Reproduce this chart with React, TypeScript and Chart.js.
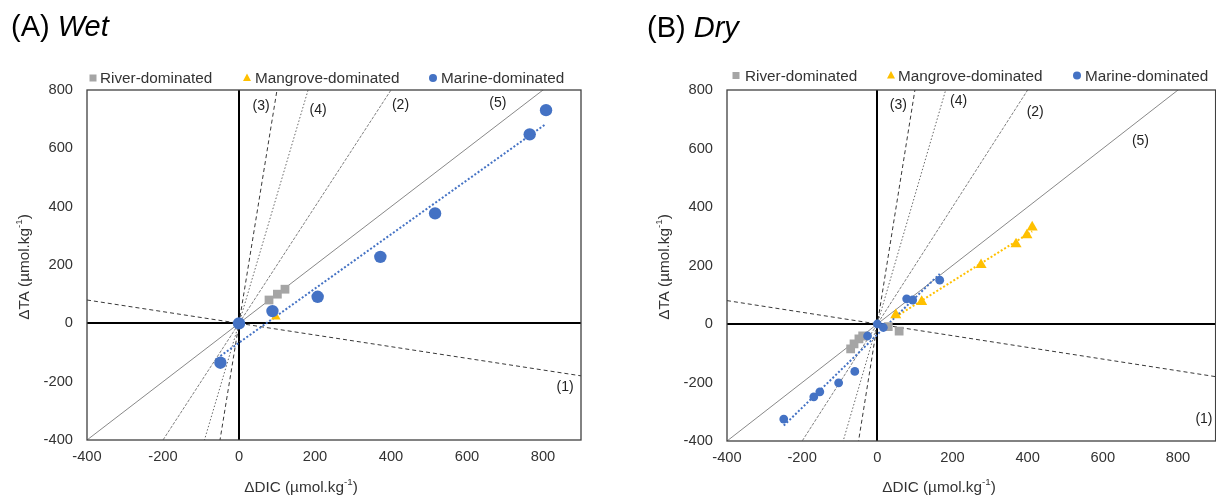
import React, { useEffect, useRef } from "react";
import { Chart, registerables } from "chart.js";

Chart.register(...registerables);

const FONT = '"Liberation Sans", Arial, Helvetica, sans-serif';

// ---------- data: (A) Wet ----------
const wetRiverX = [79, 101, 121];
const wetRiverY = [80, 100, 117];
const wetMangroveX = [97];
const wetMangroveY = [23];
const wetMarineX = [808, 765, 516, 372, 207, 88, 0, -49];
const wetMarineY = [731, 648, 377, 228, 91, 42, 0, -135];

// ---------- data: (B) Dry ----------
const dryRiverX = [58, 29, -39, -49, -62, -71];
const dryRiverY = [-24, -9, -41, -51, -68, -85];
const dryMangroveX = [49, 118, 276, 369, 398, 412];
const dryMangroveY = [31, 76, 202, 273, 304, 331];
const dryMarineX = [-249, -169, -153, -103, -60, -26, 0, 16, 78, 94, 166];
const dryMarineY = [-325, -249, -232, -201, -162, -41, 0, -12, 86, 82, 150];

// ---------- reference process lines (ΔTA/ΔDIC slopes through origin) ----------
const processLabels = ["(1)", "(2)", "(3)", "(4)", "(5)"];
const processSlopes = [-0.2, 2, 8, 4.4, 1];

// ---------- axes / labels ----------
const xTicks = [-400, -200, 0, 200, 400, 600, 800];
const yTicks = [-400, -200, 0, 200, 400, 600, 800];
const xMin = -400;
const xMax = 900;
const yMin = -400;
const yMax = 800;
const seriesNames = ["River-dominated", "Mangrove-dominated", "Marine-dominated"];
const xTitleName = "ΔDIC";
const yTitleName = "ΔTA";

// ---------- styles ----------
const RIVER = "#A5A5A5";
const MANGROVE = "#FFC000";
const MARINE = "#4472C4";
const processColors = ["#383838", "#707070", "#383838", "#666666", "#6a6a6a"];
const processDash = [[4, 3], [3, 1.5], [4, 3], [1.5, 2], []];
const processWidth = [1, 0.9, 1, 1, 0.8];

function linearFit(xs: number[], ys: number[]) {
  const n = xs.length;
  const mx = xs.reduce((a, b) => a + b, 0) / n;
  const my = ys.reduce((a, b) => a + b, 0) / n;
  let sxy = 0;
  let sxx = 0;
  for (let i = 0; i < n; i++) {
    sxy += (xs[i] - mx) * (ys[i] - my);
    sxx += (xs[i] - mx) * (xs[i] - mx);
  }
  const slope = sxy / sxx;
  return { slope, intercept: my - slope * mx };
}

function trendPoints(xs: number[], ys: number[]) {
  const { slope, intercept } = linearFit(xs, ys);
  const lo = Math.min(...xs);
  const hi = Math.max(...xs);
  return [
    { x: lo, y: slope * lo + intercept },
    { x: hi, y: slope * hi + intercept },
  ];
}

const pts = (xs: number[], ys: number[]) => xs.map((x, i) => ({ x, y: ys[i] }));

type PanelCfg = {
  prefix: string;
  italic: string;
  titleX: number;
  titleY: number;
  riverX: number[];
  riverY: number[];
  mangroveX: number[];
  mangroveY: number[];
  marineX: number[];
  marineY: number[];
  labelX: number[];
  labelY: number[];
  left: number;
  width: number;
  yAxisWidth: number;
  padRight: number;
  padBottom: number;
  legendY: number;
  legendMarkerX: number[];
  legendTextX: number[];
  xTitleX: number;
  yTitleX: number;
  circleR: number;
  rectR: number;
  triR: number;
};

const wetCfg: PanelCfg = {
  prefix: "(A) ",
  italic: "Wet",
  titleX: 11,
  titleY: 36,
  riverX: wetRiverX,
  riverY: wetRiverY,
  mangroveX: wetMangroveX,
  mangroveY: wetMangroveY,
  marineX: wetMarineX,
  marineY: wetMarineY,
  labelX: [858, 425, 58, 208, 681],
  labelY: [-220, 747, 744, 730, 756],
  left: 0,
  width: 600,
  yAxisWidth: 87,
  padRight: 19,
  padBottom: 16,
  legendY: 78,
  legendMarkerX: [93, 247, 433],
  legendTextX: [100, 255, 441],
  xTitleX: 301,
  yTitleX: 23,
  circleR: 6.2,
  rectR: 6.2,
  triR: 5.5,
};

const dryCfg: PanelCfg = {
  prefix: "(B) ",
  italic: "Dry",
  titleX: 31,
  titleY: 36.5,
  riverX: dryRiverX,
  riverY: dryRiverY,
  mangroveX: dryMangroveX,
  mangroveY: dryMangroveY,
  marineX: dryMarineX,
  marineY: dryMarineY,
  labelX: [869, 420, 56, 216, 700],
  labelY: [-326, 726, 749, 762, 626],
  left: 616,
  width: 606,
  yAxisWidth: 111,
  padRight: 1,
  padBottom: 15,
  legendY: 75.5,
  legendMarkerX: [120, 275, 461],
  legendTextX: [129, 282, 469],
  xTitleX: 323,
  yTitleX: 47,
  circleR: 4.4,
  rectR: 6.2,
  triR: 6.4,
};

function drawAxisTitle(ctx: CanvasRenderingContext2D, name: string, cx: number, cy: number, rotate: boolean) {
  const size = 15.3;
  const supSize = 9.8;
  const parts = [
    { t: name + " (µmol.kg", sup: false },
    { t: "-1", sup: true },
    { t: ")", sup: false },
  ];
  ctx.save();
  ctx.translate(cx, cy);
  if (rotate) ctx.rotate(-Math.PI / 2);
  const widths = parts.map((p) => {
    ctx.font = `${p.sup ? supSize : size}px ${FONT}`;
    return ctx.measureText(p.t).width;
  });
  const total = widths.reduce((a, b) => a + b, 0);
  let x = -total / 2;
  const base = size * 0.36;
  ctx.fillStyle = "#333333";
  ctx.textAlign = "left";
  ctx.textBaseline = "alphabetic";
  parts.forEach((p, i) => {
    ctx.font = `${p.sup ? supSize : size}px ${FONT}`;
    ctx.fillText(p.t, x, p.sup ? base - size * 0.4 : base);
    x += widths[i];
  });
  ctx.restore();
}

function makeOverlay(cfg: PanelCfg) {
  return {
    id: "overlay",
    afterDraw(chart: any) {
      const ctx: CanvasRenderingContext2D = chart.ctx;
      const a = chart.chartArea;
      const xs = chart.scales.x;
      const ys = chart.scales.y;
      ctx.save();
      // plot frame
      ctx.strokeStyle = "#404040";
      ctx.lineWidth = 1.3;
      ctx.strokeRect(a.left, a.top, a.right - a.left, a.bottom - a.top);

      // panel title
      ctx.fillStyle = "#000";
      ctx.textBaseline = "alphabetic";
      ctx.textAlign = "left";
      ctx.font = `29px ${FONT}`;
      ctx.fillText(cfg.prefix, cfg.titleX, cfg.titleY);
      const w = ctx.measureText(cfg.prefix).width;
      ctx.font = `italic 29px ${FONT}`;
      ctx.fillText(cfg.italic, cfg.titleX + w, cfg.titleY);

      // legend
      const ly = cfg.legendY;
      ctx.fillStyle = RIVER;
      ctx.fillRect(cfg.legendMarkerX[0] - 3.5, ly - 3.5, 7, 7);
      ctx.fillStyle = MANGROVE;
      ctx.beginPath();
      const tx = cfg.legendMarkerX[1];
      ctx.moveTo(tx, ly - 4.5);
      ctx.lineTo(tx + 4, ly + 3);
      ctx.lineTo(tx - 4, ly + 3);
      ctx.closePath();
      ctx.fill();
      ctx.fillStyle = MARINE;
      ctx.beginPath();
      ctx.arc(cfg.legendMarkerX[2], ly, 4, 0, Math.PI * 2);
      ctx.fill();
      ctx.fillStyle = "#333333";
      ctx.font = `15.3px ${FONT}`;
      ctx.textBaseline = "middle";
      seriesNames.forEach((n, i) => ctx.fillText(n, cfg.legendTextX[i], ly + 1));

      // process line labels
      ctx.font = `14px ${FONT}`;
      ctx.textAlign = "center";
      ctx.fillStyle = "#222222";
      processLabels.forEach((l, i) => {
        ctx.fillText(l, xs.getPixelForValue(cfg.labelX[i]), ys.getPixelForValue(cfg.labelY[i]));
      });
      ctx.restore();

      // axis titles
      drawAxisTitle(ctx, xTitleName, cfg.xTitleX, 486, false);
      drawAxisTitle(ctx, yTitleName, cfg.yTitleX, 267, true);
    },
  };
}

function buildDatasets(cfg: PanelCfg) {
  const ds: any[] = [];
  processSlopes.forEach((s, i) => {
    ds.push({
      label: processLabels[i],
      data: [
        { x: xMin, y: s * xMin },
        { x: xMax, y: s * xMax },
      ],
      showLine: true,
      borderColor: processColors[i],
      borderWidth: processWidth[i],
      borderDash: processDash[i],
      pointRadius: 0,
      fill: false,
      order: 10,
    });
  });
  const trendStyle = (color: string) => ({
    showLine: true,
    borderColor: color,
    borderWidth: 2,
    borderDash: [2, 2],
    pointRadius: 0,
    fill: false,
    order: 5,
  });
  if (cfg.marineX.length > 1) {
    ds.push({ label: "Marine trend", data: trendPoints(cfg.marineX, cfg.marineY), ...trendStyle(MARINE) });
  }
  if (cfg.mangroveX.length > 1) {
    ds.push({ label: "Mangrove trend", data: trendPoints(cfg.mangroveX, cfg.mangroveY), ...trendStyle(MANGROVE) });
  }
  ds.push({
    label: seriesNames[0],
    data: pts(cfg.riverX, cfg.riverY),
    showLine: false,
    pointStyle: "rect",
    pointRadius: cfg.rectR,
    pointBackgroundColor: RIVER,
    pointBorderWidth: 0,
    order: 3,
  });
  ds.push({
    label: seriesNames[1],
    data: pts(cfg.mangroveX, cfg.mangroveY),
    showLine: false,
    pointStyle: "triangle",
    pointRadius: cfg.triR,
    pointBackgroundColor: MANGROVE,
    pointBorderWidth: 0,
    order: 2,
  });
  ds.push({
    label: seriesNames[2],
    data: pts(cfg.marineX, cfg.marineY),
    showLine: false,
    pointStyle: "circle",
    pointRadius: cfg.circleR,
    pointBackgroundColor: MARINE,
    pointBorderWidth: 0,
    order: 1,
  });
  return ds;
}

function Panel({ cfg }: { cfg: PanelCfg }) {
  const ref = useRef<HTMLCanvasElement>(null);
  useEffect(() => {
    if (!ref.current) return;
    const tickFont = { family: FONT, size: 14.7 };
    const zeroColor = (c: any) => (c.tick && c.tick.value === 0 ? "#000000" : "rgba(0,0,0,0)");
    const zeroWidth = (c: any) => (c.tick && c.tick.value === 0 ? 2 : 1);
    const chart = new Chart(ref.current, {
      type: "scatter",
      data: { datasets: buildDatasets(cfg) },
      options: {
        responsive: false,
        animation: false,
        devicePixelRatio: 1,
        events: [],
        layout: { padding: { left: 0, top: 90, right: cfg.padRight, bottom: cfg.padBottom } },
        plugins: {
          legend: { display: false },
          tooltip: { enabled: false },
          title: { display: false },
        },
        scales: {
          x: {
            type: "linear",
            min: xMin,
            max: xMax,
            afterBuildTicks: (s: any) => {
              s.ticks = xTicks.map((v) => ({ value: v }));
            },
            afterFit: (s: any) => {
              s.height = 40;
              s.paddingLeft = 0;
              s.paddingRight = 0;
            },
            grid: { drawTicks: false, color: zeroColor, lineWidth: zeroWidth },
            border: { display: false },
            ticks: { padding: 8, color: "#333333", font: tickFont, maxRotation: 0, autoSkip: false },
          },
          y: {
            type: "linear",
            min: yMin,
            max: yMax,
            afterBuildTicks: (s: any) => {
              s.ticks = yTicks.map((v) => ({ value: v }));
            },
            afterFit: (s: any) => {
              s.width = cfg.yAxisWidth;
              s.paddingTop = 0;
              s.paddingBottom = 0;
            },
            grid: { drawTicks: false, color: zeroColor, lineWidth: zeroWidth },
            border: { display: false },
            ticks: { padding: 14, color: "#333333", font: tickFont, autoSkip: false },
          },
        },
      } as any,
      plugins: [makeOverlay(cfg)],
    });
    return () => chart.destroy();
  }, [cfg]);
  return (
    <canvas
      ref={ref}
      width={cfg.width}
      height={496}
      style={{ position: "absolute", left: cfg.left, top: 0, width: cfg.width, height: 496 }}
    />
  );
}

export default function App() {
  useEffect(() => {
    document.body.style.margin = "0";
  }, []);
  return (
    <div
      style={{
        position: "fixed",
        left: 0,
        top: 0,
        width: 1216,
        height: 496,
        background: "#ffffff",
        overflow: "hidden",
      }}
    >
      <Panel cfg={wetCfg} />
      <Panel cfg={dryCfg} />
    </div>
  );
}
